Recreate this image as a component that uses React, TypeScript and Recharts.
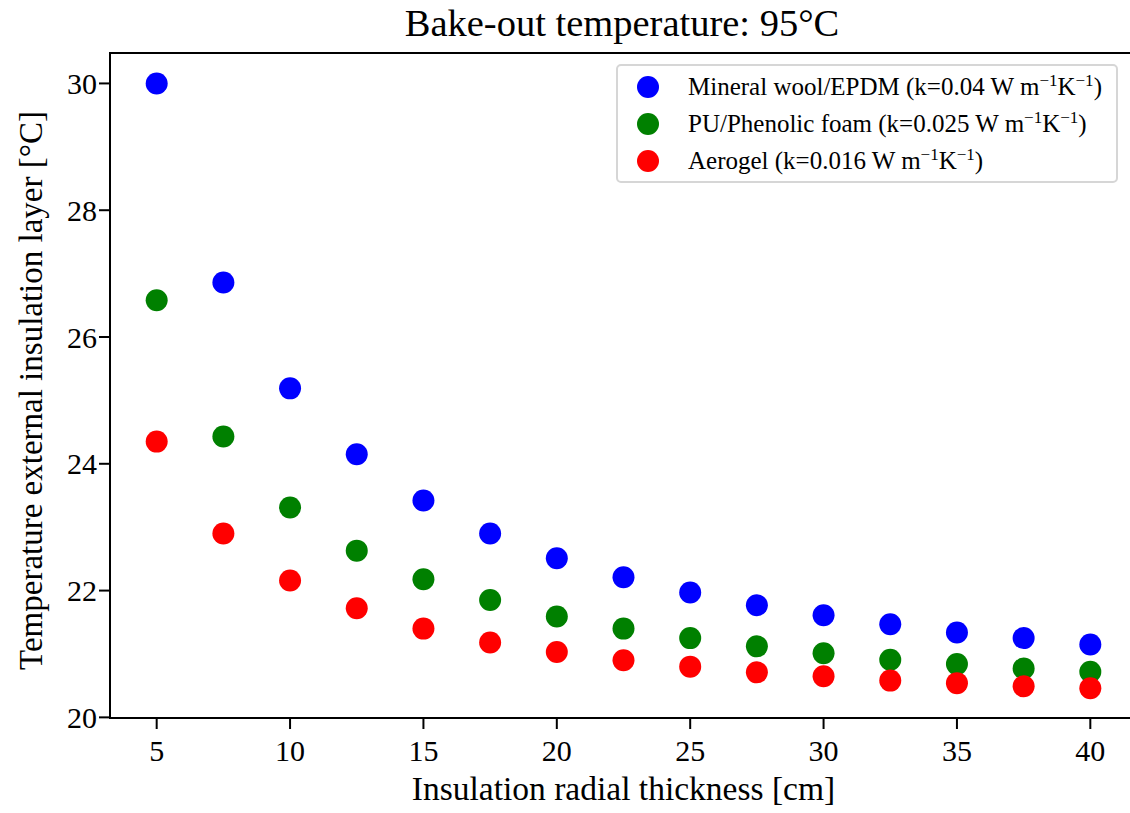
import { ReferenceArea, Scatter, ScatterChart, XAxis, YAxis } from "recharts";

const FONT = "'Liberation Serif', 'Times New Roman', serif";

const thickness = [5, 7.5, 10, 12.5, 15, 17.5, 20, 22.5, 25, 27.5, 30, 32.5, 35, 37.5, 40];
const mineralWool = [30.0, 26.86, 25.19, 24.15, 23.42, 22.9, 22.51, 22.21, 21.97, 21.77, 21.61, 21.47, 21.34, 21.25, 21.15];
const phenolicFoam = [26.58, 24.43, 23.31, 22.63, 22.18, 21.85, 21.59, 21.4, 21.25, 21.12, 21.01, 20.91, 20.84, 20.77, 20.72];
const aerogel = [24.35, 22.9, 22.16, 21.72, 21.4, 21.18, 21.03, 20.9, 20.8, 20.71, 20.65, 20.58, 20.54, 20.49, 20.46];

const xTicks = [5, 10, 15, 20, 25, 30, 35, 40];
const yTicks = [20, 22, 24, 26, 28, 30];

const X_DOMAIN: [number, number] = [3.25, 41.75];
const Y_DOMAIN: [number, number] = [19.99, 30.48];

const series = [
  { name: "Mineral wool/EPDM", k: "0.04", color: "#0000ff", values: mineralWool },
  { name: "PU/Phenolic foam", k: "0.025", color: "#008000", values: phenolicFoam },
  { name: "Aerogel", k: "0.016", color: "#ff0000", values: aerogel },
];

const toPoints = (values: number[]) => thickness.map((x, i) => ({ x, y: values[i] }));

const dot = (color: string) => (props: any) => (
  <circle cx={props.cx} cy={props.cy} r={11} fill={color} />
);

const tickStyle = { fontSize: 30, fill: "#000", fontFamily: FONT };

export default function App() {
  return (
    <div
      style={{
        position: "absolute",
        left: 0,
        top: 0,
        width: 1130,
        height: 813,
        overflow: "hidden",
        background: "#fff",
        fontFamily: FONT,
      }}
    >
      <div
        style={{
          position: "absolute",
          left: 0,
          width: 1244,
          top: 1,
          textAlign: "center",
          fontSize: 38.5,
          color: "#000",
          whiteSpace: "nowrap",
        }}
      >
        Bake-out temperature: 95°C
      </div>

      <ScatterChart
        width={1150}
        height={813}
        margin={{ top: 53, right: 13, bottom: 0, left: 0 }}
      >
        <XAxis
          type="number"
          dataKey="x"
          domain={X_DOMAIN}
          allowDataOverflow
          ticks={xTicks}
          tick={tickStyle}
          tickSize={11}
          tickMargin={11}
          height={95}
          axisLine={{ stroke: "#000", strokeWidth: 2 }}
          tickLine={{ stroke: "#000", strokeWidth: 2 }}
          label={{
            value: "Insulation radial thickness [cm]",
            position: "insideBottom",
            offset: 13,
            style: { fontSize: 33.5, fill: "#000", fontFamily: FONT },
          }}
        />
        <YAxis
          type="number"
          dataKey="y"
          domain={Y_DOMAIN}
          allowDataOverflow
          ticks={yTicks}
          tick={tickStyle}
          tickSize={11}
          tickMargin={2}
          width={110}
          axisLine={{ stroke: "#000", strokeWidth: 2 }}
          tickLine={{ stroke: "#000", strokeWidth: 2 }}
          label={{
            value: "Temperature external insulation layer [°C]",
            angle: -90,
            position: "insideLeft",
            offset: 0,
            dx: 30,
            dy: 5,
            style: { fontSize: 33, fill: "#000", fontFamily: FONT, textAnchor: "middle" },
          }}
        />
        <ReferenceArea
          x1={X_DOMAIN[0]}
          x2={X_DOMAIN[1]}
          y1={Y_DOMAIN[0]}
          y2={Y_DOMAIN[1]}
          fill="none"
          stroke="#000"
          strokeWidth={2}
        />
        {series.map((s) => (
          <Scatter
            key={s.name}
            name={s.name}
            data={toPoints(s.values)}
            shape={dot(s.color)}
            isAnimationActive={false}
          />
        ))}
      </ScatterChart>

      <div
        style={{
          position: "absolute",
          left: 616,
          top: 64,
          width: 502,
          height: 119,
          border: "2px solid #d6d6d6",
          borderRadius: 5,
          boxSizing: "border-box",
          background: "rgba(255,255,255,0.8)",
          fontSize: 25,
          color: "#000",
          paddingTop: 2,
        }}
      >
        {series.map((s) => (
          <div
            key={s.name}
            style={{ display: "flex", alignItems: "center", height: 37 }}
          >
            <span
              style={{
                display: "inline-block",
                width: 22,
                height: 22,
                borderRadius: "50%",
                background: s.color,
                marginLeft: 19,
                marginRight: 29,
                flexShrink: 0,
              }}
            />
            <span style={{ whiteSpace: "nowrap", lineHeight: "37px" }}>
              {s.name} (k={s.k} W m<sup style={{ fontSize: 17, lineHeight: 0 }}>−1</sup>K
              <sup style={{ fontSize: 17, lineHeight: 0 }}>−1</sup>)
            </span>
          </div>
        ))}
      </div>
    </div>
  );
}
